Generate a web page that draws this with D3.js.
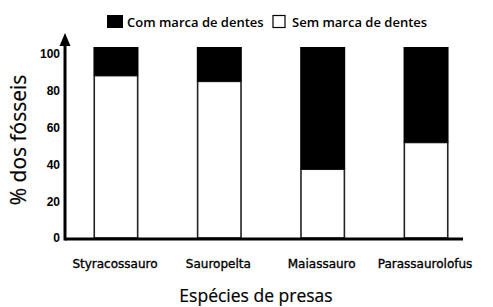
<!DOCTYPE html>
<html>
<head>
<meta charset="utf-8">
<script src="https://cdn.jsdelivr.net/npm/d3@7"></script>
<style>
  body { margin: 0; background: #fff; }
  svg { display: block; }
  .tick-text { font-family: "Liberation Sans", Arial, sans-serif; font-weight: bold; font-size: 12px; }
  .cat { font-family: "DejaVu Sans", sans-serif; font-size: 12px; stroke: #000; stroke-width: 0.35px; }
  .legend { font-family: "Open Sans", sans-serif; font-weight: 600; font-size: 13px; }
  .title { font-family: "Open Sans", sans-serif; font-size: 17.5px; stroke: #000; stroke-width: 0.2px; }
  .ytitle { font-size: 21px; }
</style>
</head>
<body>
<div id="chart"></div>
<script>
// data
var species = ["Styracossauro", "Sauropelta", "Maiassauro", "Parassaurolofus"];
var semMarca = [85, 82, 36, 50];   // white part
var comMarca = [15, 18, 64, 50];   // black part
var yTicks = [0, 20, 40, 60, 80, 100];
var seriesNames = ["Com marca de dentes", "Sem marca de dentes"];

var width = 493, height = 307;

var svg = d3.select("#chart").append("svg")
    .attr("width", width)
    .attr("height", height);

var x = d3.scaleBand()
    .domain(species)
    .range([65, 477])
    .paddingInner(0.58)
    .paddingOuter(0.283);

// bars scale
var y = d3.scaleLinear().domain([0, 100]).range([238, 47]);
// tick labels sit a bit lower in the original
var yLab = d3.scaleLinear().domain([0, 100]).range([238, 54]);

// bars
species.forEach(function(s, i) {
    var x0 = x(s), bw = x.bandwidth();
    var y0 = y(0), y1 = y(semMarca[i]), y2 = y(semMarca[i] + comMarca[i]);

    svg.append("rect")
      .attr("x", x0)
      .attr("y", y1)
      .attr("width", bw)
      .attr("height", y0 - y1)
      .attr("fill", "#fff")
      .attr("stroke", "#222")
      .attr("stroke-width", 1.6);

    svg.append("rect")
      .attr("x", x0 - 0.8)
      .attr("y", y2)
      .attr("width", bw + 1.6)
      .attr("height", y1 - y2)
      .attr("fill", "#000");
});

// axes
svg.append("line")
    .attr("x1", 65).attr("y1", 239)
    .attr("x2", 463).attr("y2", 239)
    .attr("stroke", "#000").attr("stroke-width", 3);

svg.append("line")
    .attr("x1", 65).attr("y1", 240.5)
    .attr("x2", 65).attr("y2", 44)
    .attr("stroke", "#000").attr("stroke-width", 3);

svg.append("path")
    .attr("d", "M65,33 L59.5,46 L70.5,46 Z")
    .attr("fill", "#000");

// y tick labels
yTicks.forEach(function(v) {
    svg.append("text")
      .attr("x", 60)
      .attr("y", yLab(v))
      .attr("dy", "0.36em")
      .attr("text-anchor", "end")
      .classed("tick-text", true)
      .text(v);
});

// category labels
species.forEach(function(s) {
    svg.append("text")
      .attr("x", x(s) + x.bandwidth() / 2 - 1)
      .attr("y", 268)
      .attr("text-anchor", "middle")
      .classed("cat", true)
      .text(s);
});

// legend
var lg = svg.append("g");
lg.append("rect")
    .attr("x", 107).attr("y", 15)
    .attr("width", 16).attr("height", 13)
    .attr("fill", "#000");
lg.append("text")
    .attr("x", 127).attr("y", 27)
    .classed("legend", true)
    .text(seriesNames[0]);
lg.append("rect")
    .attr("x", 273).attr("y", 15.5)
    .attr("width", 12).attr("height", 12)
    .attr("fill", "#fff")
    .attr("stroke", "#000").attr("stroke-width", 1.2);
lg.append("text")
    .attr("x", 292).attr("y", 27)
    .classed("legend", true)
    .text(seriesNames[1]);

// titles
svg.append("text")
    .attr("x", 256)
    .attr("y", 302)
    .attr("text-anchor", "middle")
    .classed("title", true)
    .text("Espécies de presas");

svg.append("text")
    .attr("transform", "translate(26,140) rotate(-90)")
    .attr("text-anchor", "middle")
    .classed("title ytitle", true)
    .text("% dos fósseis");
</script>
</body>
</html>
